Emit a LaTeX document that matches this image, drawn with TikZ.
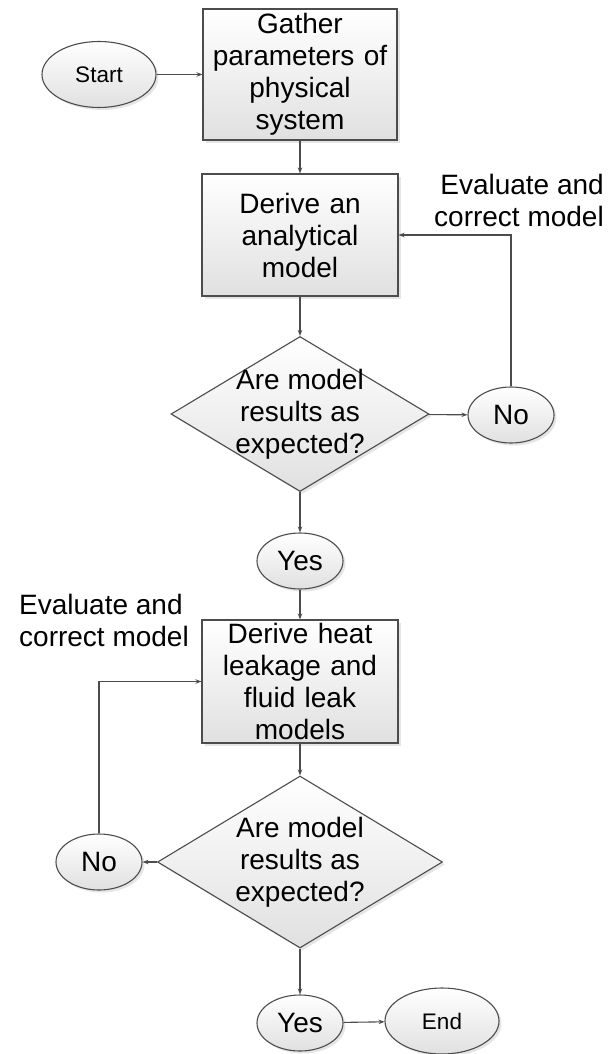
\documentclass[tikz,border=0pt]{standalone}
\usepackage{fontspec}
\setmainfont{Liberation Sans}
\usetikzlibrary{shapes.geometric,shadows,arrows.meta}
\newcommand\bigtxt{\fontsize{28}{32}\selectfont}
\newcommand\smalltxt{\fontsize{22.5}{26}\selectfont}
\begin{document}
\begin{tikzpicture}[x=1pt,y=-1pt,
  line/.style={draw=black!70, line width=1.1pt},
  arr/.style={line, -{Stealth[length=6pt,width=4.5pt]}},
  softfill/.style={top color=white, bottom color=black!12, draw=black!70, line width=1.1pt,
    drop shadow={shadow xshift=2.5pt, shadow yshift=-2.5pt, fill=black!20}},
  procbox/.style={softfill, rectangle, inner sep=0pt, text width=#1, align=center, font=\bigtxt},
  decision/.style={softfill, diamond, inner sep=0pt},
  term/.style={softfill, ellipse, inner sep=0pt, minimum width=114pt, minimum height=66pt, font=\smalltxt},
  answer/.style={softfill, ellipse, inner sep=0pt, minimum width=86pt, minimum height=56pt, font=\bigtxt},
  txt/.style={inner sep=0pt, font=\bigtxt}
]
\useasboundingbox (0,0) rectangle (614,1054);

% flow nodes
\node[term] (start) at (99,74.5) {Start};
\node[procbox=194pt, minimum width=194pt, minimum height=131pt] (gather) at (300,74.5)
  {Gather\\parameters of\\physical\\system};
\node[procbox=194pt, minimum width=196pt, minimum height=122pt] (derive) at (300,235)
  {Derive an\\analytical\\model};
\node[decision, minimum width=258pt, minimum height=155pt] (check1) at (300,414) {};
\node[txt, align=center] (check1txt) at (check1) {Are model\\results as\\expected?};
\node[answer] (no1) at (511,415) {No};
\node[answer] (yes1) at (300,561) {Yes};
\node[procbox=194pt, minimum width=196pt, minimum height=123pt] (leak) at (300,681.5)
  {Derive heat\\leakage and\\fluid leak\\models};
\node[decision, minimum width=285pt, minimum height=172pt] (check2) at (300,862) {};
\node[txt, align=center] (check2txt) at (check2) {Are model\\results as\\expected?};
\node[answer] (no2) at (99,862) {No};
\node[answer] (yes2) at (300,1023) {Yes};
\node[term] (end) at (442,1021) {End};

% loop-back labels
\node[txt, align=right, anchor=east] (fix1) at (604,200) {Evaluate and\\correct model};
\node[txt, align=left, anchor=west] (fix2) at (19,620) {Evaluate and\\correct model};

% connectors
\draw[arr] (start) -- (gather);
\draw[arr] (gather) -- (derive);
\draw[arr] (derive) -- (check1);
\draw[arr] (check1) -- (no1);
\draw[arr] (no1.north) |- (derive.east);
\draw[arr] (check1) -- (yes1);
\draw[arr] (yes1) -- (leak);
\draw[arr] (leak) -- (check2);
\draw[arr] (check2) -- (no2);
\draw[arr] (no2.north) |- (leak.west);
\draw[arr] (check2) -- (yes2);
\draw[arr] (yes2) -- (end);
\end{tikzpicture}
\end{document}
